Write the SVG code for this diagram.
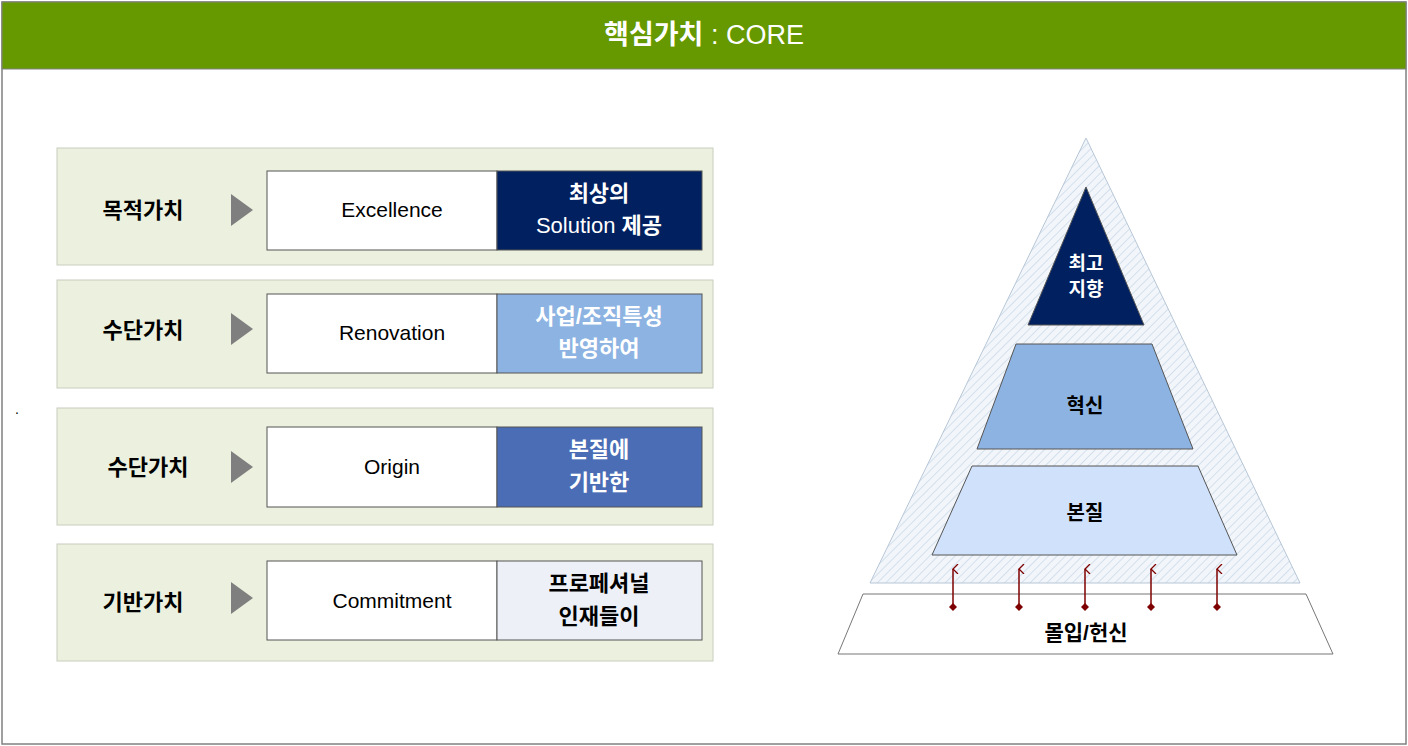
<svg xmlns="http://www.w3.org/2000/svg" width="1408" height="746" viewBox="0 0 1408 746">
<style>
.t{font-family:"Liberation Sans","Noto Sans CJK KR",sans-serif}
.lab{font-size:22px;font-weight:bold;fill:#000}
.en{font-size:21px;fill:#000}
.ko{font-size:22px;font-weight:bold}
.panel{fill:#ebf1de;stroke:#c8cdbf;stroke-width:1}
.box{fill:#fff;stroke:#555;stroke-width:1}
.tri{fill:#7f7f7f}
.arr{stroke:#7f0000;stroke-width:1.5;fill:none}
</style>
<defs>
<pattern id="h" width="6" height="6" patternUnits="userSpaceOnUse" patternTransform="rotate(45)">
<rect width="6" height="6" fill="#f2f6fa"/>
<line x1="0" y1="0" x2="0" y2="6" stroke="#c9d8e8" stroke-width="1.5"/>
</pattern>
<marker id="ah" markerWidth="10" markerHeight="10" refX="5" refY="1" orient="auto" markerUnits="userSpaceOnUse">
<path d="M0,6 L5,1 L10,6" stroke="#7f0000" stroke-width="1.3" fill="none"/>
</marker>
<marker id="dm" markerWidth="8" markerHeight="8" refX="4" refY="4" orient="auto" markerUnits="userSpaceOnUse">
<path d="M4,0 L8,4 L4,8 L0,4Z" fill="#7f0000"/>
</marker>
</defs>
<rect x="0" y="0" width="1408" height="746" fill="#fff"/>
<rect x="2" y="2" width="1404" height="742" fill="#fff" stroke="#808080" stroke-width="1.5"/>
<g id="header">
<rect x="2" y="2" width="1404" height="67" fill="#669900" stroke="#808080" stroke-width="1"/>
<text class="t" x="704" y="44" text-anchor="middle" font-size="27" fill="#fff"><tspan font-weight="bold">핵심가치</tspan> : CORE</text>
</g>
<text class="t" x="15" y="414" font-size="14">.</text>
<g id="row1">
<rect class="panel" x="57" y="148" width="656" height="117"/>
<text class="t lab" x="143" y="218" text-anchor="middle">목적가치</text>
<path class="tri" d="M231,194 L253,210 L231,226Z"/>
<rect class="box" x="267" y="171" width="230" height="79"/>
<text class="t en" x="392" y="217" text-anchor="middle">Excellence</text>
<rect x="497" y="171" width="205" height="79" fill="#002060" stroke="#555"/>
<text class="t ko" x="599" y="201" text-anchor="middle" fill="#fff">최상의</text>
<text class="t ko" x="599" y="233" text-anchor="middle" fill="#fff"><tspan font-weight="normal">Solution</tspan> 제공</text>
</g>
<g id="row2">
<rect class="panel" x="57" y="280" width="656" height="108"/>
<text class="t lab" x="143" y="338" text-anchor="middle">수단가치</text>
<path class="tri" d="M231,313 L253,329 L231,345Z"/>
<rect class="box" x="267" y="294" width="230" height="79"/>
<text class="t en" x="392" y="340" text-anchor="middle">Renovation</text>
<rect x="497" y="294" width="205" height="79" fill="#8db3e2" stroke="#555"/>
<text class="t ko" x="599" y="324" text-anchor="middle" fill="#fff">사업/조직특성</text>
<text class="t ko" x="599" y="356" text-anchor="middle" fill="#fff">반영하여</text>
</g>
<g id="row3">
<rect class="panel" x="57" y="408" width="656" height="117"/>
<text class="t lab" x="148" y="475" text-anchor="middle">수단가치</text>
<path class="tri" d="M231,451 L253,467 L231,483Z"/>
<rect class="box" x="267" y="427" width="230" height="80"/>
<text class="t en" x="392" y="474" text-anchor="middle">Origin</text>
<rect x="497" y="427" width="205" height="80" fill="#4a6db5" stroke="#555"/>
<text class="t ko" x="599" y="457" text-anchor="middle" fill="#fff">본질에</text>
<text class="t ko" x="599" y="490" text-anchor="middle" fill="#fff">기반한</text>
</g>
<g id="row4">
<rect class="panel" x="57" y="544" width="656" height="117"/>
<text class="t lab" x="143" y="610" text-anchor="middle">기반가치</text>
<path class="tri" d="M231,582 L253,598 L231,614Z"/>
<rect class="box" x="267" y="561" width="230" height="79"/>
<text class="t en" x="392" y="608" text-anchor="middle">Commitment</text>
<rect x="497" y="561" width="205" height="79" fill="#edf0f7" stroke="#555"/>
<text class="t ko" x="599" y="591" text-anchor="middle" fill="#000">프로페셔널</text>
<text class="t ko" x="599" y="624" text-anchor="middle" fill="#000">인재들이</text>
</g>
<g id="pyramid">
<path d="M1086,138 L1300,583 L870,583Z" fill="url(#h)" stroke="#b7c6d6" stroke-width="1"/>
</g>
<g id="top">
<path d="M1086,187 L1144,325 L1028,325Z" fill="#002060" stroke="#555"/>
<text class="t" x="1086" y="270" text-anchor="middle" font-size="19" font-weight="bold" fill="#fff">최고</text>
<text class="t" x="1086" y="296" text-anchor="middle" font-size="19" font-weight="bold" fill="#fff">지향</text>
</g>
<g id="mid">
<path d="M1016,344 L1152,344 L1193,449 L977,449Z" fill="#8db3e2" stroke="#555"/>
<text class="t" x="1085" y="413" text-anchor="middle" font-size="20" font-weight="bold" fill="#000">혁신</text>
</g>
<g id="bottom">
<path d="M972,466 L1198,466 L1237,555 L932,555Z" fill="#d0e1fb" stroke="#555"/>
<text class="t" x="1085" y="520" text-anchor="middle" font-size="20" font-weight="bold" fill="#000">본질</text>
</g>
<g id="base">
<path d="M863,594 L1306,594 L1333,654 L838,654Z" fill="#fff" stroke="#777"/>
<text class="t" x="1086" y="640" text-anchor="middle" font-size="21" font-weight="bold" fill="#000">몰입/헌신</text>
</g>
<g id="connectors">
<line class="arr" x1="953" y1="607" x2="953" y2="569" marker-start="url(#dm)" marker-end="url(#ah)"/>
<line class="arr" x1="1019" y1="607" x2="1019" y2="569" marker-start="url(#dm)" marker-end="url(#ah)"/>
<line class="arr" x1="1085" y1="607" x2="1085" y2="569" marker-start="url(#dm)" marker-end="url(#ah)"/>
<line class="arr" x1="1151" y1="607" x2="1151" y2="569" marker-start="url(#dm)" marker-end="url(#ah)"/>
<line class="arr" x1="1217" y1="607" x2="1217" y2="569" marker-start="url(#dm)" marker-end="url(#ah)"/>
</g>
</svg>
